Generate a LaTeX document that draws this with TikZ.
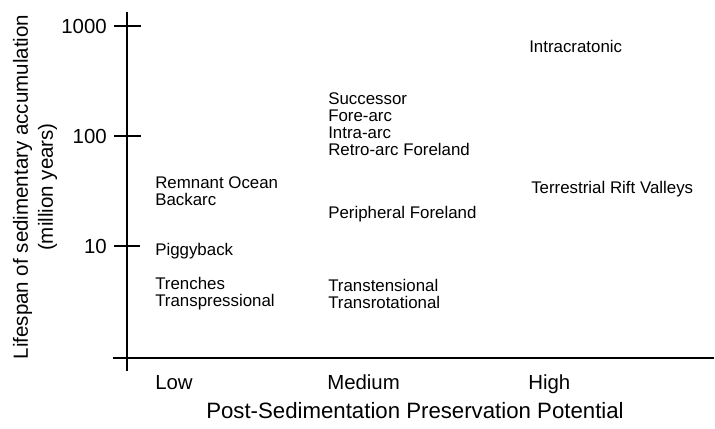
\documentclass[tikz,border=0pt]{standalone}
\usepackage{fontspec}
\setmainfont{Liberation Sans}
\usepackage{tikz}

\tikzset{
  lbl/.style={font=\fontsize{12}{12.1}\selectfont, align=left, anchor=west, inner sep=0pt},
  axlbl/.style={font=\fontsize{14.5}{17}\selectfont, inner sep=0pt},
  axline/.style={line width=1.8pt},
  tickline/.style={line width=1.5pt},
}

\begin{document}
\begin{tikzpicture}[x=0.025cm,y=0.025cm]
\useasboundingbox (-127,-70) rectangle (588,358);
% axes
\draw[axline] (0,-13) to (0,346);
\draw[axline] (-14,0) to (587,0);
\draw[tickline] (-13,332) to (14,332);
\draw[tickline] (-13,222) to (14,222);
\draw[tickline] (-13,112) to (13,112);
\node[axlbl,anchor=east] (t1000) at (-20,332) {1000};
\node[axlbl,anchor=east] (t100) at (-20,222) {100};
\node[axlbl,anchor=east] (t10) at (-20,112) {10};
\node[axlbl,anchor=base west] (low) at (28,-31) {Low};
\node[axlbl,anchor=base west] (medium) at (200,-31) {Medium};
\node[axlbl,anchor=base west] (high) at (401,-31) {High};
\node[axlbl,font=\fontsize{15.8}{17}\selectfont] (xtitle) at (288,-53) {Post-Sedimentation Preservation Potential};
\node[axlbl,font=\fontsize{14.6}{17.8}\selectfont,align=center,rotate=90] (ytitle) at (-92,171)
  {Lifespan of sedimentary accumulation\\(million years)};
% basin types
\node[lbl] (remnant) at (28,166.5) {Remnant Ocean\\Backarc};
\node[lbl] (piggy) at (28,107) {Piggyback};
\node[lbl] (trench) at (28,64) {Trenches\\Transpressional};
\node[lbl] (succ) at (201,233.5) {Successor\\Fore-arc\\Intra-arc\\Retro-arc Foreland};
\node[lbl] (periph) at (201,144) {Peripheral Foreland};
\node[lbl] (transt) at (201,64) {Transtensional\\Transrotational};
\node[lbl] (intra) at (402,312) {Intracratonic};
\node[lbl] (rift) at (404,169) {Terrestrial Rift Valleys};
\end{tikzpicture}
\end{document}
